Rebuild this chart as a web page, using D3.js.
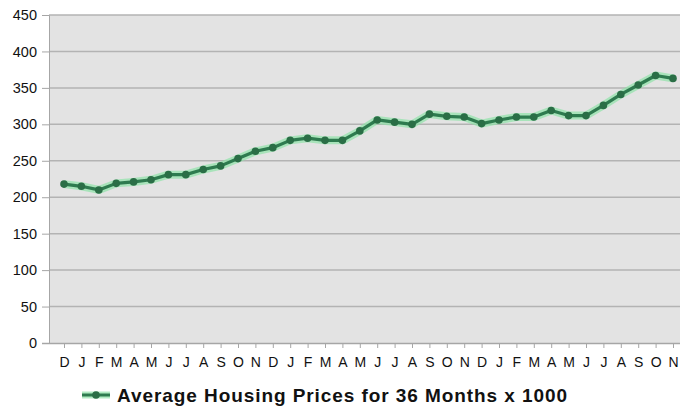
<!DOCTYPE html>
<html>
<head>
<meta charset="utf-8">
<script src="https://cdn.jsdelivr.net/npm/d3@7"></script>
<style>
  body { margin: 0; background: #fff; }
  svg { display: block; font-family: "Liberation Sans", Arial, sans-serif; }
</style>
</head>
<body>
<svg id="chart" width="680" height="407"></svg>
<script>
var months = ['D','J','F','M','A','M','J','J','A','S','O','N',
              'D','J','F','M','A','M','J','J','A','S','O','N',
              'D','J','F','M','A','M','J','J','A','S','O','N'];
var prices = [218, 215, 210, 219, 221, 224, 231, 231, 238, 243, 253, 263,
              268, 278, 281, 278, 278, 291, 306, 303, 300, 314, 311, 310,
              301, 306, 310, 310, 319, 312, 312, 326, 341, 354, 367, 363];
var yTicks = [0, 50, 100, 150, 200, 250, 300, 350, 400, 450];
var seriesName = 'Average Housing Prices for 36 Months x 1000';

function drawChart(svgId) {
  const svg = d3.select(svgId);
  const margin = { top: 15, right: 0, bottom: 64, left: 49 },
    width = 680 - margin.left - margin.right,
    height = 407 - margin.top - margin.bottom,
    g = svg.append("g").attr("transform", "translate(" + margin.left + "," + margin.top + ")");

  let xScale = d3.scalePoint().domain(d3.range(prices.length)).range([15, 624]);
  let yScale = d3.scaleLinear().domain([0, 450]).range([height, 0]);

  // plot background
  g.append("rect")
    .attr("width", width).attr("height", height)
    .attr("fill", "#e3e3e3");

  // grid
  g.selectAll(".grid")
    .data(yTicks.slice(1))
    .enter()
    .append("line")
    .attr("x1", 0).attr("x2", width)
    .attr("y1", d => yScale(d)).attr("y2", d => yScale(d))
    .attr("stroke", "#b3b3b3")
    .attr("stroke-width", 1.5);

  // y axis
  let yAxis = g.append("g")
    .call(d3.axisLeft(yScale).tickValues(yTicks).tickSize(7).tickPadding(5));
  yAxis.select(".domain").attr("stroke", "#a6a6a6");
  yAxis.selectAll(".tick line").attr("stroke", "#a6a6a6");
  yAxis.selectAll("text").attr("font-size", "14.5px").attr("fill", "#111")
    .attr("font-family", "Liberation Sans, Arial, sans-serif");

  // x axis
  let xAxis = g.append("g")
    .attr("transform", "translate(0," + height + ")")
    .call(d3.axisBottom(xScale).tickFormat(i => months[i]).tickSize(5).tickPadding(9).tickSizeOuter(0));
  xAxis.select(".domain").attr("d", "M-7,0.5H" + width).attr("stroke", "#a6a6a6").attr("stroke-width", 1.5);
  xAxis.selectAll(".tick line").attr("stroke", "#a6a6a6");
  xAxis.selectAll("text").attr("font-size", "14px").attr("fill", "#111")
    .attr("font-family", "Liberation Sans, Arial, sans-serif");

  let line = d3.line()
    .x((d, i) => xScale(i))
    .y(d => yScale(d));

  // glow
  g.append("path")
    .datum(prices)
    .attr("fill", "none")
    .attr("stroke", "#8fe2a8")
    .attr("stroke-opacity", 0.7)
    .attr("stroke-width", 8)
    .attr("stroke-linejoin", "round")
    .attr("d", line);

  // series line
  g.append("path")
    .datum(prices)
    .attr("fill", "none")
    .attr("stroke", "#2e7b4f")
    .attr("stroke-width", 3.2)
    .attr("stroke-linejoin", "round")
    .attr("d", line);

  // points
  g.selectAll(".pt")
    .data(prices)
    .enter()
    .append("circle")
    .attr("cx", (d, i) => xScale(i))
    .attr("cy", d => yScale(d))
    .attr("r", 3.8)
    .attr("fill", "#2a6e46");

  // legend
  let lg = svg.append("g").attr("transform", "translate(82,395)");
  lg.append("line").attr("x1", 0).attr("x2", 28).attr("y1", 0).attr("y2", 0)
    .attr("stroke", "#8fe2a8").attr("stroke-opacity", 0.7).attr("stroke-width", 7);
  lg.append("line").attr("x1", 0).attr("x2", 28).attr("y1", 0).attr("y2", 0)
    .attr("stroke", "#2e7b4f").attr("stroke-width", 3);
  lg.append("circle").attr("cx", 14).attr("cy", 0).attr("r", 3.8).attr("fill", "#2a6e46");
  lg.append("text").attr("x", 35).attr("y", 6.5)
    .attr("font-size", "19px").attr("font-weight", "bold").attr("fill", "#111")
    .attr("textLength", 450).attr("lengthAdjust", "spacing")
    .text(seriesName);
}

drawChart("#chart");
</script>
</body>
</html>
